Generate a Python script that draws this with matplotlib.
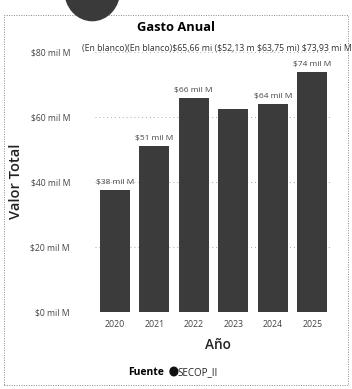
import matplotlib
matplotlib.use('Agg')
import matplotlib.pyplot as plt
from matplotlib.patches import Circle, Rectangle

# Datos (miles de millones)
anios = ['2020', '2021', '2022', '2023', '2024', '2025']
valores = [37.5, 51.2, 66.0, 62.6, 64.0, 74.0]
etiquetas = ['$38 mil M', '$51 mil M', '$66 mil M', '', '$64 mil M', '$74 mil M']
ticks_y = [0, 20, 40, 60, 80]
ticks_y_txt = ['$0 mil M', '$20 mil M', '$40 mil M', '$60 mil M', '$80 mil M']
fila_superior = '(En blanco)(En blanco)$65,66 mi ($52,13 m $63,75 mi) $73,93 mi M'

plt.rcParams['font.family'] = ['Open Sans', 'DejaVu Sans']
plt.rcParams['text.parse_math'] = False

fig = plt.figure(figsize=(3.52, 3.89), dpi=100)
ax = fig.add_axes([0.27, 0.198, 0.673, 0.668])

x = range(len(anios))
ax.bar(x, valores, width=0.75, color='#3b3b3b')
for xi, v, t in zip(x, valores, etiquetas):
    if t:
        ax.text(xi, v + 1.2, t, ha='center', va='bottom', fontsize=6, color='#444444')

ax.set_xlim(-0.5, 5.5)
ax.set_ylim(0, 80)
ax.set_xticks(list(x))
ax.set_xticklabels(anios, fontsize=6.3, color='#444444')
ax.set_yticks(ticks_y)
ax.set_yticklabels(ticks_y_txt, fontsize=6.2, color='#444444')
ax.tick_params(length=0, pad=18)
ax.tick_params(axis='x', pad=6)
ax.grid(axis='y', linestyle=(0, (1, 3)), color='#aaaaaa', linewidth=0.7)
ax.set_axisbelow(True)
for s in ax.spines.values():
    s.set_visible(False)

# fila de etiquetas superpuestas (tal cual en la referencia)
fig.text(0.232, 0.876, fila_superior, fontsize=6.3, color='#333333', ha='left', va='center')

fig.text(0.5, 0.93, 'Gasto Anual', fontsize=9.3, fontweight='bold', ha='center', va='center')
fig.text(0.045, 0.535, 'Valor Total', fontsize=10.5, fontweight='semibold', rotation=90,
         ha='center', va='center', color='#222222')
fig.text(0.618, 0.113, 'Año', fontsize=9.8, fontweight='semibold', ha='center', va='center',
         color='#222222')
fig.text(0.364, 0.043, 'Fuente', fontsize=7.5, fontweight='bold', ha='left', va='center')
fig.patches.append(Circle((0.494, 0.045), 0.011, transform=fig.transFigure, color='#111111'))
fig.text(0.505, 0.043, 'SECOP_II', fontsize=7, ha='left', va='center', color='#222222')

# marco punteado y círculo superior
fig.patches.append(Rectangle((0.01, 0.01), 0.98, 0.951, transform=fig.transFigure,
                             fill=False, edgecolor='#888888', linestyle=(0, (1, 1.5)),
                             linewidth=0.7))
fig.patches.append(Circle((0.262, 1.025), 0.078, transform=fig.transFigure,
                          color='#3a3a3a', clip_on=False))

fig.savefig('out.png', dpi=100)
